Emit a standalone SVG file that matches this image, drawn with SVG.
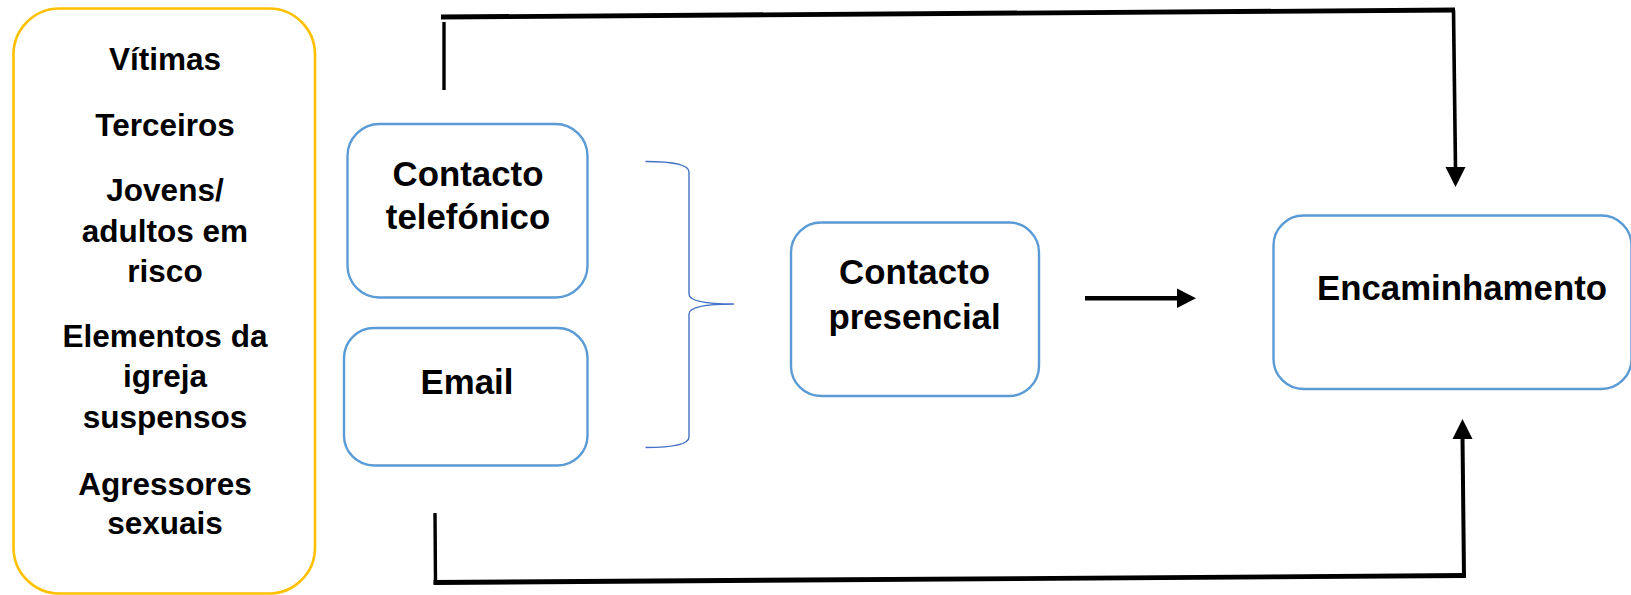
<svg xmlns="http://www.w3.org/2000/svg" width="1631" height="595" viewBox="0 0 1631 595">
<style>
text{font-family:"Liberation Sans",Arial,sans-serif;font-weight:bold;fill:#000;text-anchor:middle}
.y{font-size:31.5px}
.b{font-size:34.8px}
.box{fill:#fff;stroke:#5B9BD5;stroke-width:2.4}
.ybox{fill:#fff;stroke:#FFC000;stroke-width:2.6}
.ln{fill:none;stroke:#000;stroke-linecap:butt}
.ah{fill:#000}
.brace{fill:none;stroke:#4472C4;stroke-width:1.4}
</style>
<rect width="1631" height="595" fill="#fff"/>
<g id="sources">
<rect class="ybox" x="13.5" y="8.5" width="301.5" height="585" rx="46"/>
<text class="y" x="165" y="69.5">Vítimas</text>
<text class="y" x="165" y="135.5">Terceiros</text>
<text class="y" x="165" y="200.5">Jovens/</text>
<text class="y" x="165" y="241.5">adultos em</text>
<text class="y" x="165" y="282">risco</text>
<text class="y" x="165" y="347">Elementos da</text>
<text class="y" x="165" y="387">igreja</text>
<text class="y" x="165" y="427.5">suspensos</text>
<text class="y" x="165" y="495">Agressores</text>
<text class="y" x="165" y="534">sexuais</text>
</g>
<g id="telefonico">
<rect class="box" x="347.5" y="124" width="240" height="173.5" rx="32"/>
<text class="b" x="468" y="186">Contacto</text>
<text class="b" x="468" y="229">telefónico</text>
</g>
<g id="email">
<rect class="box" x="344" y="328" width="243.5" height="137.5" rx="30"/>
<text class="b" x="467" y="394">Email</text>
</g>
<g id="brace">
<path class="brace" d="M645.5,161.5 C672,161.5 689,164 689,172 L689,294 C689,300.5 702,304 734,304 C702,304 689,307.5 689,314 L689,437 C689,445 672,447.5 645.5,447.5"/>
</g>
<g id="presencial">
<rect class="box" x="791" y="222.5" width="248" height="173.5" rx="30"/>
<text class="b" x="914.5" y="283.5">Contacto</text>
<text class="b" x="914.5" y="328.5">presencial</text>
</g>
<g id="encaminhamento">
<rect class="box" x="1273.5" y="215.5" width="358" height="173.5" rx="30"/>
<text class="b" x="1462" y="300">Encaminhamento</text>
</g>
<g id="connectors">
<path class="ln" d="M1085,298.3 L1178,298.3" stroke-width="4.4"/>
<polygon class="ah" points="1177,288.5 1196,298.3 1177,308"/>
<path class="ln" d="M444,22 L444,90" stroke-width="3.4"/>
<path class="ln" d="M441,17 L1455,10" stroke-width="4.8"/>
<path class="ln" d="M1453.5,10 L1455.5,169" stroke-width="3.6"/>
<polygon class="ah" points="1445.5,167 1465.5,167 1455.5,187"/>
<path class="ln" d="M435,513 L435.5,584" stroke-width="3.4"/>
<path class="ln" d="M433.5,582.5 L1466,575.5" stroke-width="4.8"/>
<path class="ln" d="M1464,577 L1462.5,436" stroke-width="4"/>
<polygon class="ah" points="1452.5,439 1472.5,439 1462.5,419"/>
</g>
</svg>
